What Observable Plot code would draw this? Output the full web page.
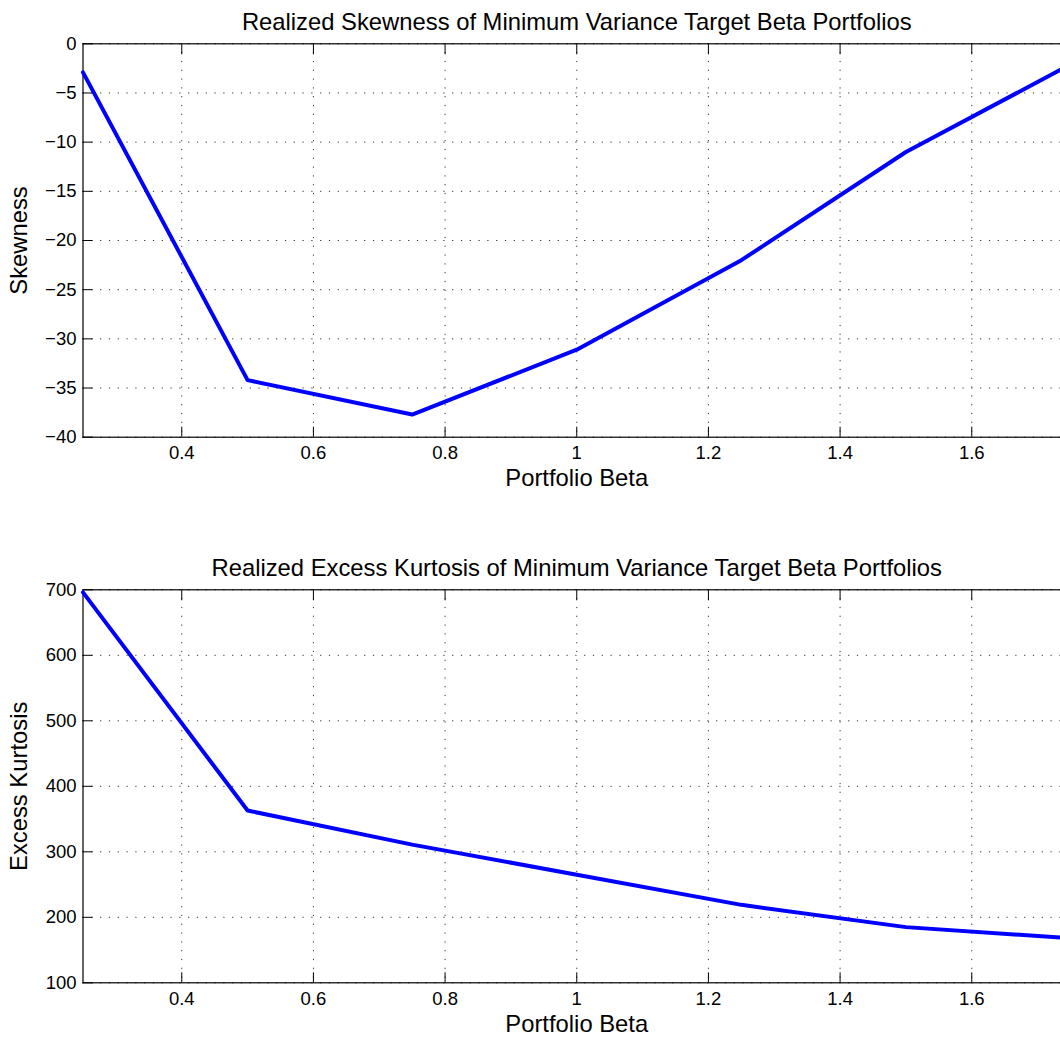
<!DOCTYPE html>
<html>
<head>
<meta charset="utf-8">
<script src="https://cdn.jsdelivr.net/npm/d3@7"></script>
<script src="https://cdn.jsdelivr.net/npm/@observablehq/plot@0.6"></script>
<style>
  html, body { margin: 0; padding: 0; background: white; overflow: hidden; }
  #chart svg { display: block; }
</style>
</head>
<body>
<div id="chart"></div>
<script>
// ---- data ----
const betas = [0.25, 0.5, 0.75, 1.0, 1.25, 1.5, 1.75];
const skewness = [-2.9, -34.2, -37.7, -31.1, -22.0, -11.0, -2.1];
const kurtosis = [696, 363, 311, 265, 219, 185, 168];

const xTicks = [0.4, 0.6, 0.8, 1.0, 1.2, 1.4, 1.6];
const xTickLabels = ["0.4", "0.6", "0.8", "1", "1.2", "1.4", "1.6"];
const skewTicks = [0, -5, -10, -15, -20, -25, -30, -35, -40];
const skewTickLabels = ["0", "\u22125", "\u221210", "\u221215", "\u221220", "\u221225", "\u221230", "\u221235", "\u221240"];
const kurtTicks = [700, 600, 500, 400, 300, 200, 100];
const kurtTickLabels = ["700", "600", "500", "400", "300", "200", "100"];

const titles = [
  "Realized Skewness of Minimum Variance Target Beta Portfolios",
  "Realized Excess Kurtosis of Minimum Variance Target Beta Portfolios"
];
const xLabel = "Portfolio Beta";
const yLabels = ["Skewness", "Excess Kurtosis"];

const FONT = "'Liberation Sans', Arial, Helvetica, sans-serif";
const TICKFS = 18.5;
const LABELFS = 23.8;

function panel({ys, yDomain, yTicks, yTickLabels, title, ylabel, height, marginTop, marginBottom}) {
  const grid = {stroke: "#333", strokeOpacity: 1, strokeWidth: 1, strokeDasharray: "1.2,7.6"};
  return Plot.plot({
    width: 1060,
    height,
    marginLeft: 82.5,
    marginRight: -10,
    marginTop,
    marginBottom,
    style: {fontFamily: FONT, fontSize: TICKFS + "px", color: "black", background: "white", overflow: "visible"},
    x: {domain: [0.25, 1.75]},
    y: {domain: yDomain},
    marks: [
      Plot.gridX(xTicks, grid),
      Plot.gridY(yTicks, grid),
      // inward ticks
      Plot.axisX(xTicks, {anchor: "bottom", tickSize: -10, tickFormat: () => "", label: null, stroke: "black"}),
      Plot.axisX(xTicks, {anchor: "top", tickSize: -10, tickFormat: () => "", label: null, stroke: "black"}),
      Plot.axisY(yTicks, {anchor: "left", tickSize: -10, tickFormat: () => "", label: null, stroke: "black"}),
      // tick labels
      Plot.axisX(xTicks, {anchor: "bottom", tickSize: 0, tickPadding: 9, fontSize: TICKFS,
        tickFormat: (d, i) => xTickLabels[i], label: null}),
      Plot.axisY(yTicks, {anchor: "left", tickSize: 0, tickPadding: 6.5, fontSize: TICKFS,
        tickFormat: (d, i) => yTickLabels[i], label: null}),
      Plot.frame({stroke: "black", strokeWidth: 1.2}),
      Plot.line(betas.map((b, i) => ({x: b, y: ys[i]})), {x: "x", y: "y", stroke: "#0000ff", strokeWidth: 4, strokeLinejoin: "round"}),
      // title & labels
      Plot.text([title], {frameAnchor: "top", lineAnchor: "middle", textAnchor: "middle", dy: -21, fontSize: LABELFS, fill: "black", text: d => d}),
      Plot.text([xLabel], {frameAnchor: "bottom", lineAnchor: "middle", textAnchor: "middle", dy: 41.5, fontSize: LABELFS, fill: "black", text: d => d}),
      Plot.text([ylabel], {frameAnchor: "left", lineAnchor: "middle", textAnchor: "middle", dx: -63.5, rotate: -90, fontSize: LABELFS, fill: "black", text: d => d})
    ]
  });
}

const chart = document.getElementById("chart");
chart.append(panel({
  ys: skewness, yDomain: [-40, 0], yTicks: skewTicks, yTickLabels: skewTickLabels,
  title: titles[0], ylabel: yLabels[0], height: 518, marginTop: 43.3, marginBottom: 81.3
}));
chart.append(panel({
  ys: kurtosis, yDomain: [100, 700], yTicks: kurtTicks, yTickLabels: kurtTickLabels,
  title: titles[1], ylabel: yLabels[1], height: 520, marginTop: 71.3, marginBottom: 55.7
}));
</script>
</body>
</html>
